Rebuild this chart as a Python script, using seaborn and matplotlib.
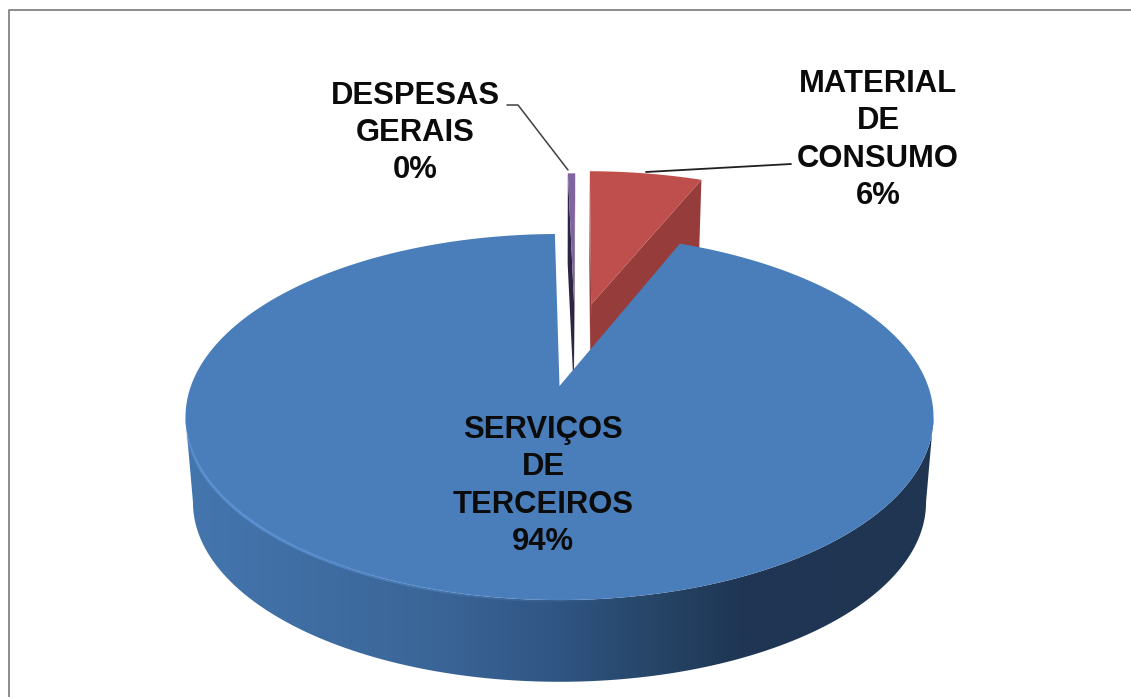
import numpy as np
import matplotlib
matplotlib.use("Agg")
import matplotlib.pyplot as plt
import seaborn as sns
from matplotlib.patches import Polygon

# Values, clockwise from the blue slice
categories = ["SERVIÇOS\nDE\nTERCEIROS", "DESPESAS\nGERAIS", "MATERIAL\nDE\nCONSUMO"]
values = [93.6, 0.4, 6.0]
percent_labels = ["94%", "0%", "6%"]

sns.set_theme(style="white")
plt.rcParams["font.family"] = ["Liberation Sans", "DejaVu Sans"]

face_colors = ["#4a7ebb", "#8064a2", "#bf4f4c"]
side_colors = ["#2f5583", "#2c2440", "#963c3a"]

W, H = 1131, 697
fig = plt.figure(figsize=(W / 100, H / 100), dpi=100)
ax = fig.add_axes([0, 0, 1, 1])

# perspective of the disc, in px (the disc centre lands on APEX)
APEX = (559.5, 386)
A, B, P = 368.6, 177.8, 0.1694
LOW_SCALE, DEPTH = 0.98, 86
START = 22.2  # deg clockwise from the back of the disc
OFFSETS = [(0, 0), (0.043, 0.50), (0.093, 0.497)]
RADII = [1, 1, 1.022]


def project(u, v, low=False):
    s, d = (LOW_SCALE, DEPTH) if low else (1, 0)
    w = 1 + P * v
    return APEX[0] + s * A * u / w, APEX[1] - s * B * v / w + d


def arc(t1, t2, off=(0, 0), low=False, n=200, r=1):
    t = np.radians(np.linspace(t1, t2, n))
    return project(off[0] + r * np.sin(t), off[1] + r * np.cos(t), low)


def slice_poly(t1, t2, off, low=False, r=1):
    x, y = arc(t1, t2, off, low, r=r)
    ax0, ay0 = project(off[0], off[1], low)
    return np.column_stack([np.r_[ax0, x], np.r_[ay0, y]])


shares = np.array(values) / sum(values) * 360
ends = START + np.cumsum(shares)
starts = ends - shares

# exploded slices go first, the big slice is drawn over them
for i in [2, 1]:
    t1, t2 = starts[i], ends[i]
    off = OFFSETS[i]
    top = slice_poly(t1, t2, off, r=RADII[i])
    low = slice_poly(t1, t2, off, low=True, r=RADII[i])
    walls = np.vstack([[top[0]], [low[0]], low[-1:], top[-1:]])
    ax.add_patch(Polygon(walls, fc=side_colors[i], ec="none", zorder=2))
    ax.add_patch(Polygon(np.vstack([[top[0]], [low[0]], low[1:2], top[1:2]]),
                         fc=side_colors[i], ec="none", zorder=2))
    ax.add_patch(Polygon(top, fc=face_colors[i], ec="none", zorder=3))

# outer wall of the big slice with the left to right shading
LEFT_SIDE, RIGHT_SIDE = 260.3, 99.7
xt, yt = arc(LEFT_SIDE, RIGHT_SIDE, n=300)
xb, yb = arc(RIGHT_SIDE, LEFT_SIDE, low=True, n=300)
wall = Polygon(np.column_stack([np.r_[xt, xb], np.r_[yt, yb]]), fc="none", ec="none", zorder=4)
ax.add_patch(wall)
cmap = matplotlib.colors.LinearSegmentedColormap.from_list(
    "wall", [(0, "#4476ae"), (0.35, "#3a6496"), (0.5, "#2f5583"), (0.62, "#274668"),
             (0.74, "#1f3654"), (1, "#1f3552")])
im = ax.imshow(np.linspace(0, 1, 256)[None, :], cmap=cmap, aspect="auto",
               extent=(xt.min(), xt.max(), 700, 400), zorder=4)
im.set_clip_path(wall)

# big slice top face
ax.add_patch(Polygon(slice_poly(starts[0], ends[0], OFFSETS[0]), fc=face_colors[0], ec="none", zorder=5))

# light bevel along the front left rim, fading out towards the front
xr, yr = arc(258, 172, n=90)
fade = np.minimum(np.linspace(0, 6, 89), np.linspace(1.6, 0, 89)).clip(0, 1) * 0.8
for k in range(89):
    ax.plot(xr[k:k + 2], yr[k:k + 2] + 0.5, color="#5c93d6", lw=2.2, alpha=fade[k], zorder=6,
            solid_capstyle="butt")

# frame, only top and left reach the picture
ax.plot([9, 9, W], [H, 9.5, 9.5], color="#8c8c8c", lw=1.4, zorder=1)

# leader lines
ax.plot([507, 518, 568], [105, 105, 170], color="#404040", lw=1.1, zorder=7)
ax.plot([646, 791], [172, 164], color="#202020", lw=1.3, zorder=7)

# labels
label_pos = [(543, 486), (415, 133), (878, 140)]
for name, pct, (x, y) in zip(categories, percent_labels, label_pos):
    ax.text(x, y, name + "\n" + pct, ha="center", va="center", fontsize=22.3, fontweight="bold",
            color="#0b0b0b", linespacing=1.32, zorder=8)

ax.set_xlim(0, W)
ax.set_ylim(H, 0)
ax.axis("off")
fig.savefig("out.png", dpi=100, facecolor="white")
